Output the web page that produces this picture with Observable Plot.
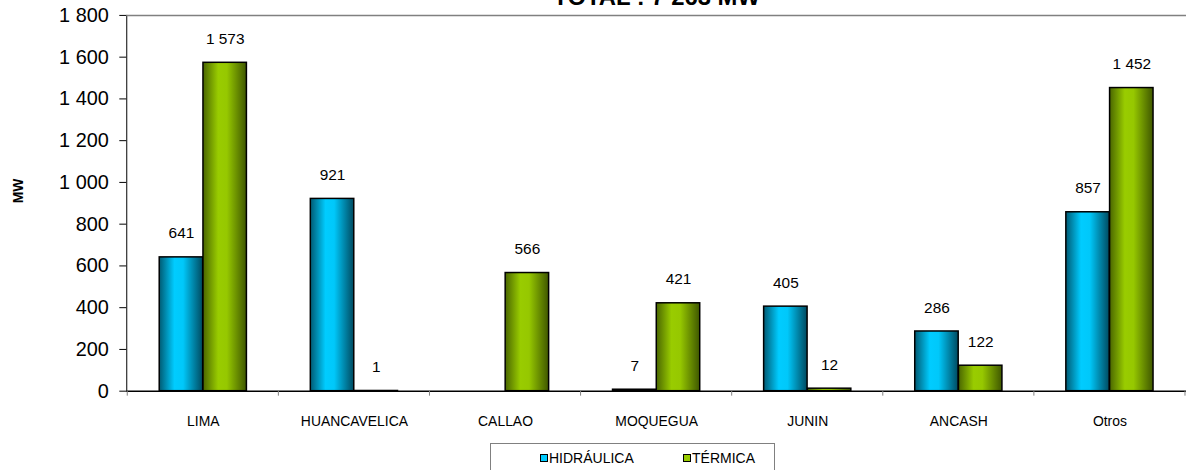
<!DOCTYPE html>
<html>
<head>
<meta charset="utf-8">
<script src="https://cdn.jsdelivr.net/npm/d3@7"></script>
<script src="https://cdn.jsdelivr.net/npm/@observablehq/plot@0.6"></script>
<style>
  html, body { margin: 0; padding: 0; background: #fff; overflow: hidden; width: 1186px; height: 470px; }
  body { font-family: "Liberation Sans", Arial, sans-serif; }
  #chart svg { display: block; }
  .legend { position: relative; margin-left: 490px; margin-top: 6px; width: 285px; height: 40px; border: 1px solid #808080; box-sizing: border-box; font-size: 14px; }
  .legend .item { position: absolute; top: 6px; display: flex; align-items: center; }
  .legend .sw { width: 6px; height: 6px; border: 1px solid #000; margin-right: 1px; }
</style>
</head>
<body>
<div id="chart"></div>
<div class="legend">
  <div class="item" style="left:49px"><span class="sw" style="background:#00ccff"></span><span>HIDRÁULICA</span></div>
  <div class="item" style="left:192px"><span class="sw" style="background:#99cc00"></span><span>TÉRMICA</span></div>
</div>
<script>
const categories = ["LIMA", "HUANCAVELICA", "CALLAO", "MOQUEGUA", "JUNIN", "ANCASH", "Otros"];
const hidraulica = [641, 921, null, 7, 405, 286, 857];
const termica = [1573, 1, 566, 421, 12, 122, 1452];
const yTicks = [0, 200, 400, 600, 800, 1000, 1200, 1400, 1600, 1800];
const title = "TOTAL : 7 263 MW";
const yLabel = "MW";

const fmt = v => d3.format(",")(v).replace(/,/g, " ");
const rows = categories.map((c, i) => ({category: c, h: hidraulica[i], t: termica[i]}));
const rowsH = rows.filter(d => d.h != null);
const rowsT = rows.filter(d => d.t != null);

const band = (1193 - 127) / categories.length;
const half = band / 2;
const barW = 44;

function defsMark() {
  const defs = d3.create("svg:defs");
  const mk = (id, stops) => {
    const g = defs.append("linearGradient").attr("id", id).attr("x1", "0").attr("x2", "1").attr("y1", "0").attr("y2", "0");
    stops.forEach(([o, c]) => g.append("stop").attr("offset", o).attr("stop-color", c));
  };
  mk("gradH", [["0%", "#005a73"], ["35%", "#00ccff"], ["55%", "#00c8fa"], ["100%", "#004a60"]]);
  mk("gradT", [["0%", "#4a6600"], ["35%", "#99cc00"], ["55%", "#96c800"], ["100%", "#3f5700"]]);
  return defs.node();
}

function boundaryTicks(index, scales, values, dims) {
  const x = scales.x;
  const g = d3.create("svg:g").attr("stroke", "#808080");
  const y0 = dims.height - dims.marginBottom;
  const xs = categories.map(c => x(c));
  xs.push(xs[xs.length - 1] + (xs[1] - xs[0]));
  xs.forEach(px => g.append("line").attr("x1", px).attr("x2", px).attr("y1", y0).attr("y2", y0 + 5));
  return g.node();
}

const chart = Plot.plot({
  width: 1193,
  height: 440,
  marginLeft: 127,
  marginRight: 0,
  marginTop: 15,
  marginBottom: 47,
  style: {fontFamily: "'Liberation Sans', Arial, sans-serif", fontSize: "20px", background: "white", color: "#000", overflow: "visible"},
  x: {domain: categories, padding: 0, axis: null},
  y: {domain: [0, 1800], ticks: yTicks, tickFormat: fmt, tickSize: 7, tickPadding: 11, label: null, line: true},
  marks: [
    defsMark,
    Plot.ruleY([1800], {stroke: "#808080", strokeWidth: 1.5}),
    Plot.barY(rowsH, {x: "category", y: "h", fill: "url(#gradH)", stroke: "#000", strokeWidth: 1.5,
      insetLeft: half - barW, insetRight: half}),
    Plot.barY(rowsT, {x: "category", y: "t", fill: "url(#gradT)", stroke: "#000", strokeWidth: 1.5,
      insetLeft: half, insetRight: half - barW}),
    Plot.ruleY([0], {stroke: "#000", strokeWidth: 1.5}),
    boundaryTicks,
    Plot.text(rowsH, {x: "category", y: "h", text: d => fmt(d.h), dx: -barW / 2, dy: -24, fontSize: 15.5}),
    Plot.text(rowsT, {x: "category", y: "t", text: d => fmt(d.t), dx: barW / 2, dy: -24, fontSize: 15.5}),
    Plot.text(rows, {x: "category", y: d => 0, text: "category", dy: 31, fontSize: 14}),
    Plot.text([yLabel], {text: d => d, frameAnchor: "left", dx: -109, rotate: -90, fontWeight: "bold", fontSize: 14}),
    Plot.text([title], {text: d => d, frameAnchor: "top", lineAnchor: "bottom", dy: -10, fontWeight: "bold", fontSize: 24})
  ]
});
document.getElementById("chart").appendChild(chart);
</script>
</body>
</html>
